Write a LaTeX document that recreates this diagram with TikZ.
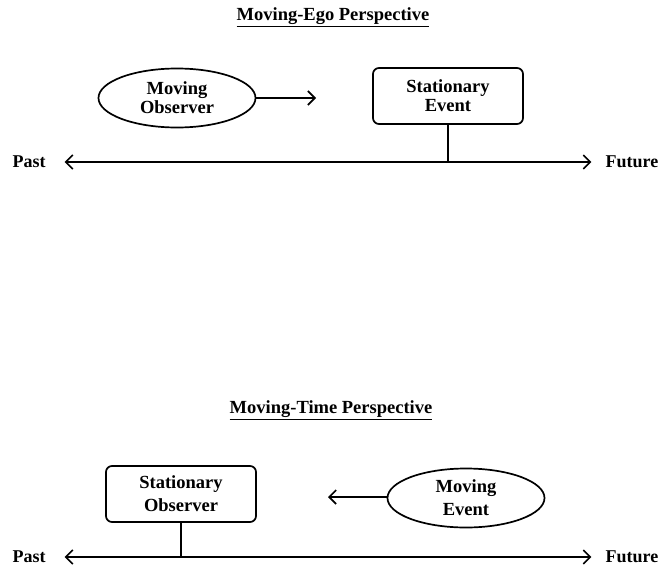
\documentclass[tikz,border=0pt]{standalone}
\usepackage{fontspec}
\setmainfont{Liberation Serif}
\usetikzlibrary{arrows.meta,positioning,shapes.geometric}

\begin{document}
\begin{tikzpicture}[
  x=1pt, y=-1pt,
  >={Straight Barb[length=7pt,width=14pt,line width=1.6pt]},
  heading/.style={font=\fontsize{18.5}{21}\selectfont\bfseries},
  endlabel/.style={font=\fontsize{18}{21}\selectfont\bfseries, inner sep=0pt},
  mover/.style={draw, ellipse, line width=1.7pt, minimum width=157pt, minimum height=59pt, align=center, inner sep=0pt, font=\fontsize{18.5}{19}\selectfont\bfseries},
  fixed/.style={draw, rectangle, rounded corners=6pt, line width=1.7pt, minimum width=150pt, minimum height=56pt, align=center, inner sep=0pt, font=\fontsize{18.5}{19}\selectfont\bfseries},
  axis/.style={<->, line width=1.7pt},
  motion/.style={->, line width=1.5pt},
  stem/.style={line width=1.3pt}
]
\useasboundingbox (0,0) rectangle (669,570);

% moving-ego
\node[heading] (egoTitle) at (333,17) {\underline{Moving-Ego Perspective}};
\node[mover] (observer) at (177,98) {Moving\\Observer};
\node[fixed] (event) at (448,96) {Stationary\\Event};
\node[endlabel] (egoPast) at (29,162) {Past};
\node[endlabel] (egoFuture) at (632,162) {Future};
\coordinate (obsTip) at (316,98);

\draw[axis, shorten <=19pt, shorten >=14pt] (egoPast) -- (egoFuture);
\draw[stem] (event.south) -- (event.south |- egoPast);
\draw[motion] (observer.east |- obsTip) -- (obsTip);

% moving-time
\node[heading] (timeTitle) at (331,410) {\underline{Moving-Time Perspective}};
\node[fixed] (watcher) at (181,494) {Stationary\\[4pt]Observer};
\node[mover] (incoming) at (466,498) {Moving\\[4pt]Event};
\node[endlabel] (timePast) at (29,557) {Past};
\node[endlabel] (timeFuture) at (632,557) {Future};
\coordinate (evtTip) at (328,497);

\draw[axis, shorten <=19pt, shorten >=14pt] (timePast) -- (timeFuture);
\draw[stem] (watcher.south) -- (watcher.south |- timePast);
\draw[motion] (incoming.west |- evtTip) -- (evtTip);

\end{tikzpicture}
\end{document}
